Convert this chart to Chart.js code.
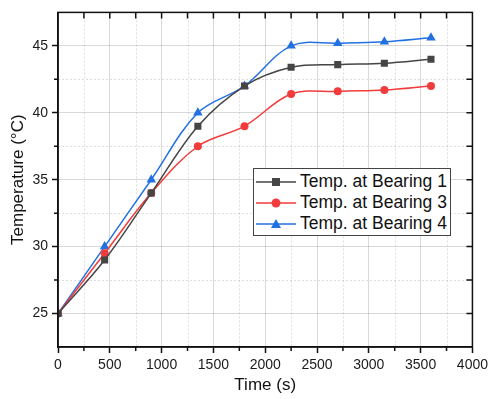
<!DOCTYPE html>
<html>
<head>
<meta charset="utf-8">
<script src="https://cdn.jsdelivr.net/npm/chart.js@4/dist/chart.umd.min.js"></script>
<style>
  html, body { margin: 0; padding: 0; background: #fff; }
  #wrap { position: relative; width: 492px; height: 399px; }
  #legend {
    position: absolute; left: 253px; top: 168px; width: 198px; height: 68px;
    border: 1px solid #444; background: #fff; box-sizing: border-box;
    font-family: "Liberation Sans", Arial, sans-serif; font-size: 17.5px; color: #111;
    padding-top: 2px;
  }
  #legend div { height: 21px; line-height: 21px; display: flex; align-items: center; }
  #legend svg { margin-left: 2px; margin-right: 4px; }
</style>
</head>
<body>
<div id="wrap">
  <canvas id="grafico" width="492" height="399"></canvas>
  <div id="legend"></div>
</div>
<script>
// Dados do gráfico
const tempos = [0, 450, 900, 1350, 1800, 2250, 2700, 3150, 3600];
const mancal1 = [25, 29, 34, 39, 42, 43.4, 43.6, 43.7, 44];
const mancal3 = [25, 29.5, 34, 37.5, 39, 41.4, 41.6, 41.7, 42];
const mancal4 = [25, 30, 35, 40, 42, 45, 45.2, 45.3, 45.6];
const rotulos = ["Temp. at Bearing 1", "Temp. at Bearing 3", "Temp. at Bearing 4"];
const cores = ["#454545", "#f23b3b", "#2271e3"];
const marcadores = ["rect", "circle", "triangle"];
const xTicks = [0, 500, 1000, 1500, 2000, 2500, 3000, 3500, 4000];
const yTicks = [25, 30, 35, 40, 45];

function pontos(ys) {
  return tempos.map((t, i) => ({ x: t, y: ys[i] }));
}

const series = [mancal1, mancal3, mancal4];
const raios = [5, 4, 5.5];

// Moldura, grade secundária e marcas internas
const moldura = {
  id: "moldura",
  beforeDatasetsDraw(chart) {
    const { ctx, chartArea: a, scales: { x, y } } = chart;
    ctx.save();
    ctx.strokeStyle = "rgba(0,0,0,0.13)";
    ctx.lineWidth = 1;
    ctx.setLineDash([2, 2]);
    for (let v = 250; v < 4000; v += 500) {
      const px = Math.round(x.getPixelForValue(v)) + 0.5;
      ctx.beginPath(); ctx.moveTo(px, a.top); ctx.lineTo(px, a.bottom); ctx.stroke();
    }
    for (let v = 27.5; v < 47.5; v += 5) {
      const py = Math.round(y.getPixelForValue(v)) + 0.5;
      ctx.beginPath(); ctx.moveTo(a.left, py); ctx.lineTo(a.right, py); ctx.stroke();
    }
    ctx.restore();
  },
  afterDraw(chart) {
    const { ctx, chartArea: a, scales: { x, y } } = chart;
    ctx.save();
    ctx.strokeStyle = "#111";
    ctx.lineWidth = 1.5;
    ctx.setLineDash([]);
    ctx.strokeRect(a.left, a.top, a.right - a.left, a.bottom - a.top);
    ctx.beginPath();
    // marcas do topo (para dentro)
    for (let v = 250; v < 4000; v += 250) {
      const px = x.getPixelForValue(v);
      ctx.moveTo(px, a.top); ctx.lineTo(px, a.top + 6);
      // marcas menores embaixo
      if (v % 500 !== 0) { ctx.moveTo(px, a.bottom); ctx.lineTo(px, a.bottom + 4); }
    }
    // marcas da direita (para dentro)
    for (let v = 25; v < 47.5; v += 2.5) {
      const py = y.getPixelForValue(v);
      ctx.moveTo(a.right, py); ctx.lineTo(a.right - 6, py);
      if (v % 5 !== 0) { ctx.moveTo(a.left, py); ctx.lineTo(a.left - 4, py); }
    }
    ctx.stroke();
    ctx.restore();
  }
};

const ctx = document.getElementById("grafico").getContext("2d");
new Chart(ctx, {
  type: "line",
  data: {
    datasets: series.map((s, i) => ({
      label: rotulos[i],
      data: pontos(s),
      borderColor: cores[i],
      backgroundColor: cores[i],
      borderWidth: 1.5,
      pointStyle: marcadores[i],
      pointRadius: raios[i],
      pointBorderWidth: 0,
      tension: 0.35,
      fill: false,
    })),
  },
  options: {
    responsive: false,
    animation: false,
    layout: { padding: { top: 10, right: 15, left: 0, bottom: 0 } },
    plugins: { legend: { display: false }, tooltip: { enabled: false } },
    scales: {
      x: {
        type: "linear",
        min: 0,
        max: 4000,
        afterBuildTicks: (s) => { s.ticks = xTicks.map(v => ({ value: v })); },
        afterFit: (s) => { s.height = 52; },
        grid: { color: "rgba(0,0,0,0.15)", tickColor: "#111", tickLength: 6, tickWidth: 1.5 },
        border: { color: "#111", width: 1.5 },
        ticks: { color: "#1a1a1a", font: { family: "Liberation Sans", size: 14 }, padding: 4, maxRotation: 0, callback: v => String(v) },
        title: { display: true, text: "Time (s)", color: "#111", font: { family: "Liberation Sans", size: 17 }, padding: { top: 2, bottom: 3 } },
      },
      y: {
        min: 22.5,
        max: 47.5,
        afterBuildTicks: (s) => { s.ticks = yTicks.map(v => ({ value: v })); },
        afterFit: (s) => { s.width = 58; },
        grid: { color: "rgba(0,0,0,0.15)", tickColor: "#111", tickLength: 6, tickWidth: 1.5 },
        border: { color: "#111", width: 1.5 },
        ticks: { color: "#1a1a1a", font: { family: "Liberation Sans", size: 14 }, padding: 4, callback: v => String(v) },
        title: { display: true, text: "Temperature (°C)", color: "#111", font: { family: "Liberation Sans", size: 17 }, padding: { top: 8, bottom: 0 } },
      },
    },
  },
  plugins: [moldura],
});

// Legenda em HTML
const legenda = document.getElementById("legend");
const formas = {
  rect: c => `<rect x="16" y="5" width="8" height="8" fill="${c}"/>`,
  circle: c => `<circle cx="20" cy="9" r="4.5" fill="${c}"/>`,
  triangle: c => `<polygon points="20,4 25,13 15,13" fill="${c}"/>`,
};
rotulos.forEach((r, i) => {
  const item = document.createElement("div");
  item.innerHTML = `<svg width="40" height="18"><line x1="0" y1="9" x2="40" y2="9" stroke="${cores[i]}" stroke-width="1.5"/>${formas[marcadores[i]](cores[i])}</svg><span>${r}</span>`;
  legenda.appendChild(item);
});
</script>
</body>
</html>
